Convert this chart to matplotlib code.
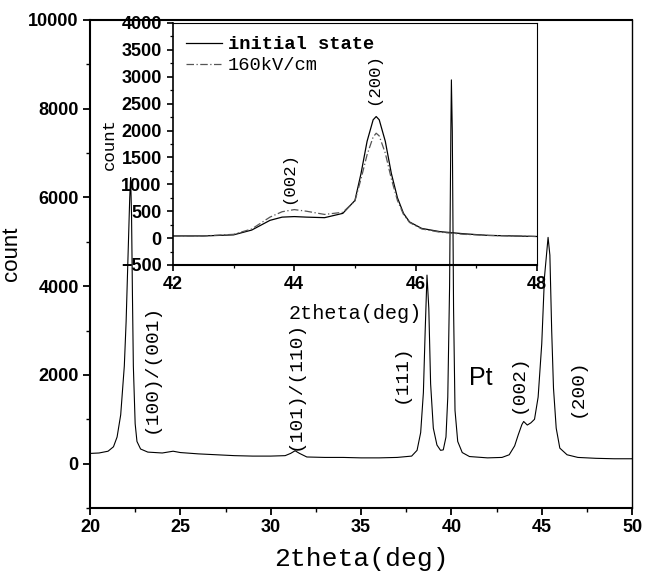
"""XRD pattern with an inset zoom of the (002)/(200) region."""

import matplotlib
matplotlib.use("Agg")
import matplotlib.pyplot as plt
from matplotlib.ticker import MultipleLocator

# main pattern
two_theta = [20.0, 20.5, 21.0, 21.3, 21.5, 21.7, 21.9, 22.0, 22.1, 22.2, 22.25, 22.3,
             22.35, 22.4, 22.5, 22.6, 22.8, 23.2, 24.0, 24.6, 25.0, 26.0, 27.0, 28.0,
             29.0, 30.0, 30.8, 31.1, 31.35, 31.6, 32.0, 33.0, 34.0, 35.0, 36.0, 37.0,
             37.8, 38.1, 38.3, 38.45, 38.55, 38.65, 38.75, 38.85, 39.0, 39.2, 39.4,
             39.55, 39.7, 39.8, 39.9, 39.97, 40.0, 40.05, 40.12, 40.2, 40.35, 40.6,
             41.0, 42.0, 42.8, 43.2, 43.5, 43.7, 43.9, 44.0, 44.2, 44.4, 44.6, 44.8,
             45.0, 45.15, 45.35, 45.45, 45.55, 45.65, 45.8, 46.0, 46.4, 47.0, 48.0,
             49.0, 50.0]
counts = [230, 240, 280, 380, 600, 1100, 2200, 3200, 4600, 6000, 6450, 5600,
          3800, 2200, 900, 500, 330, 260, 240, 280, 250, 220, 200, 180,
          170, 170, 180, 230, 290, 230, 150, 140, 140, 130, 130, 140,
          170, 300, 700, 1600, 3000, 4250, 3500, 1800, 800, 420, 300,
          310, 600, 1500, 4000, 7500, 8650, 7500, 3500, 1200, 500, 250,
          160, 130, 140, 200, 400, 650, 880, 950, 870, 920, 1000, 1500,
          2700, 4200, 5100, 4700, 3000, 1700, 800, 350, 200, 140, 120,
          110, 110]

# inset: (002)/(200) region for the two states
inset_theta = [42.0, 42.5, 43.0, 43.3, 43.6, 43.8, 44.0, 44.2, 44.5, 44.8, 45.0,
               45.1, 45.2, 45.3, 45.35, 45.4, 45.5, 45.6, 45.7, 45.8, 45.9, 46.1,
               46.4, 46.8, 47.2, 48.0]
initial_state = [40, 40, 60, 150, 330, 390, 400, 390, 380, 460, 700,
                 1200, 1800, 2200, 2260, 2200, 1800, 1200, 750, 460, 300, 180,
                 120, 80, 50, 30]
field_160 = [40, 40, 70, 170, 390, 490, 530, 500, 440, 480, 690,
             1100, 1550, 1880, 1950, 1900, 1580, 1100, 700, 440, 290, 170,
             110, 70, 50, 30]

main_peaks = ["(100)/(001)", "(101)/(110)", "(111)", "(002)", "(200)"]
main_peak_x = [23.4, 31.35, 37.2, 43.7, 46.95]
main_peak_y = [2150, 1760, 2030, 1800, 1720]

inset_peaks = ["(002)", "(200)"]
inset_peak_x = [43.9, 45.3]
inset_peak_y = [1120, 2960]

sans = ["Liberation Sans", "DejaVu Sans"]
mono = ["Liberation Mono", "DejaVu Sans Mono"]
tick_font = {"family": sans, "weight": "bold", "size": 13}

fig = plt.figure(figsize=(6.45, 5.86), dpi=100)

ax = fig.add_axes([0.1395, 0.1331, 0.8405, 0.8328])
ax.plot(two_theta, counts, color="black", lw=0.8)
ax.set_xlim(20, 50)
ax.set_ylim(-1000, 10000)
ax.xaxis.set_major_locator(MultipleLocator(5))
ax.xaxis.set_minor_locator(MultipleLocator(2.5))
ax.yaxis.set_major_locator(MultipleLocator(2000))
ax.yaxis.set_minor_locator(MultipleLocator(1000))
ax.tick_params(which="major", direction="out", length=5, width=1.3, pad=3)
ax.tick_params(which="minor", direction="out", length=3, width=1.0)
for lab in ax.get_xticklabels() + ax.get_yticklabels():
    lab.set_fontproperties(tick_font)
for side in ["left", "bottom", "top"]:
    ax.spines[side].set_linewidth(1.5)
ax.spines["right"].set_linewidth(1.0)
ax.set_xlabel("2theta(deg)", family=mono, fontsize=19, labelpad=8)
ax.set_ylabel("count", family=sans, fontsize=16)
ax.yaxis.set_label_coords(-0.125, 0.52)

for text, x, y in zip(main_peaks, main_peak_x, main_peak_y):
    ax.text(x, y, text, rotation=90, ha="center", va="center", family=mono, fontsize=14)
ax.text(41.65, 1920, "Pt", ha="center", va="center", fontsize=18, family=sans)

# inset, transparent so the Pt spike shows through
ins = fig.add_axes([0.268, 0.5478, 0.5646, 0.4130])
ins.set_facecolor("none")
ins.plot(inset_theta, initial_state, color="black", lw=0.9, label="initial state")
ins.plot(inset_theta, field_160, color="#555555", lw=0.9, ls=(0, (6, 2, 1, 2)), label="160kV/cm")
ins.set_xlim(42, 48)
ins.set_ylim(-500, 4000)
ins.xaxis.set_major_locator(MultipleLocator(2))
ins.xaxis.set_minor_locator(MultipleLocator(1))
ins.yaxis.set_major_locator(MultipleLocator(500))
ins.yaxis.set_minor_locator(MultipleLocator(250))
ins.tick_params(which="major", direction="out", length=4, width=1.2, pad=4)
ins.tick_params(which="minor", direction="out", length=2.5, width=0.9)
for lab in ins.get_xticklabels() + ins.get_yticklabels():
    lab.set_fontproperties(tick_font)
ins.spines["left"].set_linewidth(1.2)
ins.spines["bottom"].set_linewidth(1.5)
ins.spines["top"].set_linewidth(0.8)
ins.spines["right"].set_linewidth(0.8)
ins.set_xlabel("2theta(deg)", family=mono, fontsize=14.5, labelpad=8)
ins.set_ylabel("count", family=mono, fontsize=12.5, labelpad=3)

for text, x, y in zip(inset_peaks, inset_peak_x, inset_peak_y):
    ins.text(x, y, text, rotation=90, ha="center", va="center", family=mono, fontsize=12.5)

leg = ins.legend(loc="upper left", frameon=False, handlelength=1.9, handletextpad=0.35,
                 borderaxespad=0.3, labelspacing=0.2, prop={"family": mono, "size": 13.5})
leg.get_texts()[0].set_fontweight("bold")

fig.savefig("out.png", dpi=100)
